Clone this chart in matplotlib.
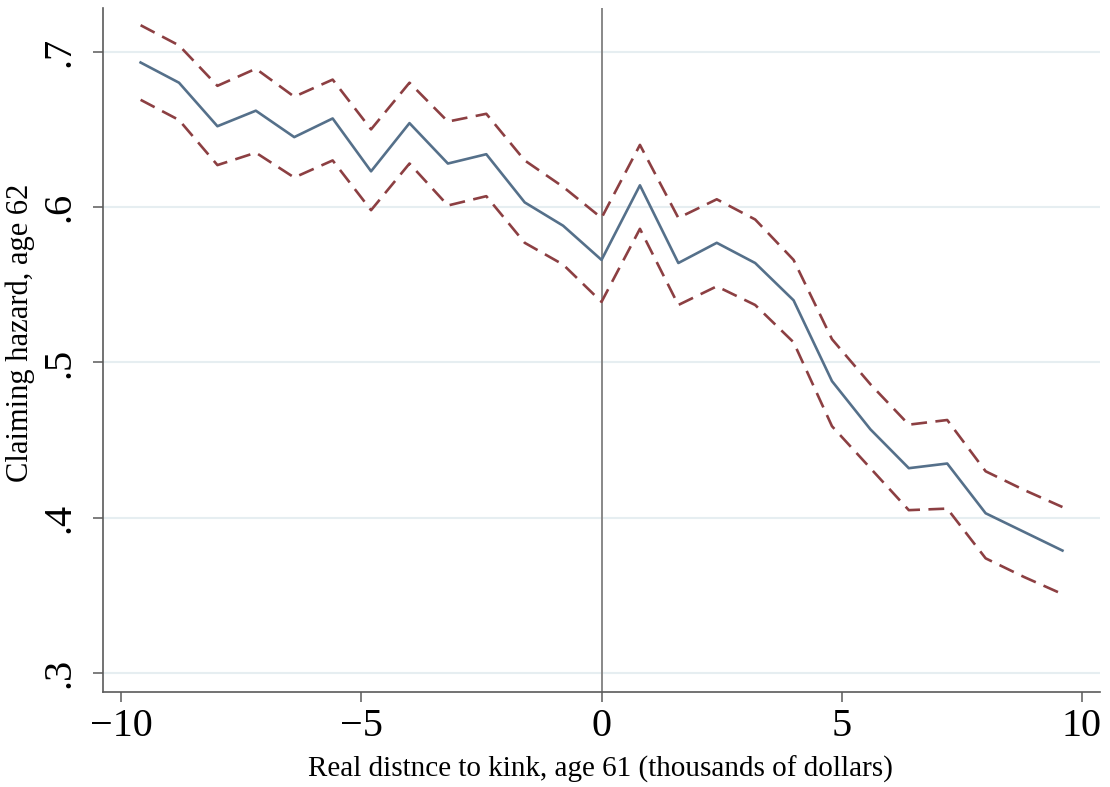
import numpy as np
import matplotlib
matplotlib.use("Agg")
import matplotlib.pyplot as plt

plt.rcParams['font.family'] = ['Liberation Serif', 'DejaVu Serif']

# distance to kink bins (thousands of dollars)
dist = [-9.6, -8.8, -8.0, -7.2, -6.4, -5.6, -4.8, -4.0, -3.2, -2.4, -1.6, -0.8, 0.0,
        0.8, 1.6, 2.4, 3.2, 4.0, 4.8, 5.6, 6.4, 7.2, 8.0, 8.8, 9.6]
# claiming hazard at age 62
hazard = [0.693, 0.680, 0.652, 0.662, 0.645, 0.657, 0.623, 0.654, 0.628, 0.634, 0.603, 0.588, 0.566,
          0.614, 0.564, 0.577, 0.564, 0.540, 0.488, 0.457, 0.432, 0.435, 0.403, 0.391, 0.379]
ci_upper = [0.717, 0.704, 0.678, 0.689, 0.671, 0.682, 0.650, 0.680, 0.655, 0.660, 0.630, 0.613, 0.593,
            0.640, 0.593, 0.605, 0.592, 0.566, 0.515, 0.486, 0.460, 0.463, 0.430, 0.418, 0.407]
ci_lower = [0.669, 0.656, 0.627, 0.635, 0.619, 0.630, 0.598, 0.628, 0.601, 0.607, 0.577, 0.563, 0.539,
            0.586, 0.537, 0.549, 0.537, 0.513, 0.459, 0.432, 0.405, 0.406, 0.374, 0.362, 0.351]

yticks = [0.3, 0.4, 0.5, 0.6, 0.7]
xticks = [-10, -5, 0, 5, 10]

fig = plt.figure(figsize=(11.1, 7.87), dpi=100)
ax = fig.add_axes([0.0925, 0.1211, 0.8984, 0.8684])

for y in yticks:
    ax.axhline(y, color='#e6eef1', lw=1.5, zorder=0)
ax.axvline(0, color='#888888', lw=1.4, zorder=1)

ax.plot(dist, hazard, color='#55708a', lw=1.9, zorder=3)
ax.plot(dist, ci_upper, color='#8c3f42', lw=1.9, dashes=(6, 3.2), zorder=2)
ax.plot(dist, ci_lower, color='#8c3f42', lw=1.9, dashes=(6, 3.2), zorder=2)

ax.set_xlim(-10.39, 10.38)
ax.set_ylim(0.2882, 0.7279)

ax.set_xticks(xticks)
ax.set_yticks(yticks)
ax.set_yticklabels([f"{v:.1f}".lstrip('0') for v in yticks], rotation=90, va='center')

for s in ['top', 'right']:
    ax.spines[s].set_visible(False)
for s in ['left', 'bottom']:
    ax.spines[s].set_color('#5a5a5a')
    ax.spines[s].set_linewidth(1.2)

ax.tick_params(axis='both', direction='out', length=7.5, width=1.1, color='#5a5a5a',
               labelsize=29, pad=4)
ax.tick_params(axis='y', pad=10)

ax.set_xlabel('Real distnce to kink, age 61 (thousands of dollars)', fontsize=21)
ax.set_ylabel('Claiming hazard, age 62', fontsize=22)
ax.xaxis.set_label_coords(0.499, -0.093)
ax.yaxis.set_label_coords(-0.068, 0.525)

fig.savefig('out.png', dpi=100)
